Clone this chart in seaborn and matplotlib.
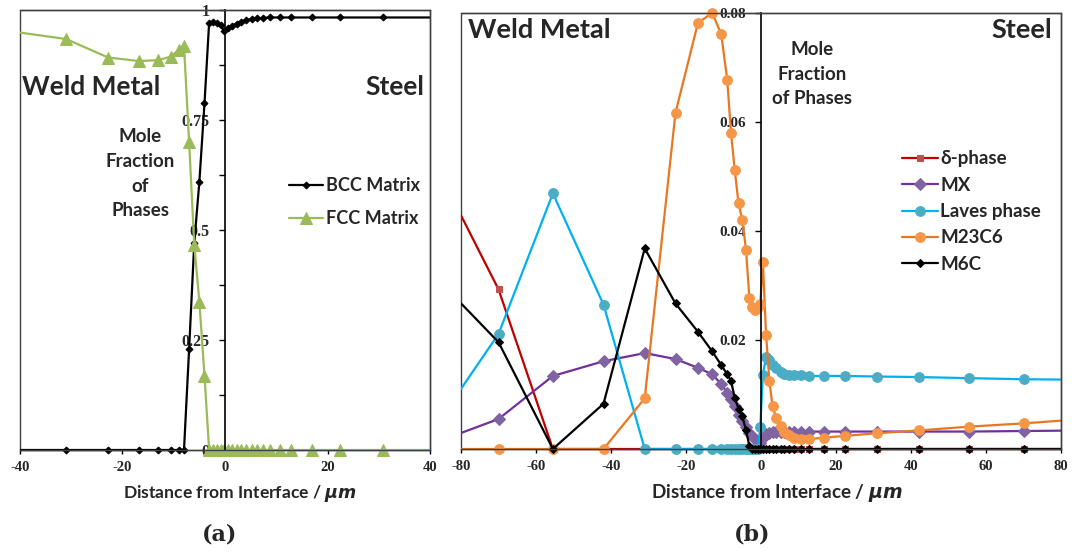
import numpy as np
import pandas as pd
import matplotlib
matplotlib.use("Agg")
import matplotlib.pyplot as plt
import seaborn as sns
from matplotlib.patches import Rectangle
from matplotlib.ticker import FixedLocator, FuncFormatter
from matplotlib.transforms import Bbox, TransformedBbox

sns.set_theme(style="white")
plt.rcParams["font.family"] = ["Lato", "DejaVu Sans"]
plt.rcParams["mathtext.fontset"] = "custom"
plt.rcParams["mathtext.it"] = "DejaVu Sans:italic:bold"
plt.rcParams["mathtext.rm"] = "Lato:bold"

# Distance from the fusion interface (um); negative values lie in the weld metal
dist = [-86, -70, -55.5, -42, -31, -22.8, -16.8, -13, -10.6, -9, -8, -7, -6, -5,
        -4, -3.1, -2.3, -1.5, -0.8, -0.2,
        0.5, 1.35, 2.25, 3.1, 4.1, 5.2, 6.2, 7.4, 8.8, 10.7, 12.9, 16.9, 22.5,
        30.9, 42, 55.4, 70, 86]

# (a) matrix phases
bcc = [0, 0, 0, 0, 0, 0, 0, 0, 0, 0, 0, 0.23, 0.47, 0.61,
       0.788, 0.971, 0.973, 0.970, 0.966, 0.953,
       0.959, 0.964, 0.969, 0.973, 0.977, 0.979, 0.981, 0.982, 0.983, 0.983,
       0.983, 0.983, 0.983, 0.983, 0.983, 0.983, 0.983, 0.983]
fcc = [0.953, 0.952, 0.952, 0.952, 0.934, 0.892, 0.884, 0.886, 0.894, 0.909,
       0.919, 0.70, 0.467, 0.337, 0.169, 0, 0, 0, 0, 0,
       0, 0, 0, 0, 0, 0, 0, 0, 0, 0, 0, 0, 0, 0, 0, 0, 0, 0]

# (b) secondary phases
delta = [0.051, 0.0293, 0, 0, 0, 0, 0, 0, 0, 0, 0, 0, 0, 0, 0, 0, 0, 0, 0, 0,
         0, 0, 0, 0, 0, 0, 0, 0, 0, 0, 0, 0, 0, 0, 0, 0, 0, 0]
mx = [0.0014, 0.0055, 0.0134, 0.0161, 0.0176, 0.0165, 0.0149, 0.0137, 0.0119,
      0.0103, 0.0091, 0.0078, 0.0063, 0.0051, 0.0040, 0.0030, 0.0024, 0.0018,
      0.0013, 0.0011,
      0.0021, 0.0028, 0.0030, 0.0031, 0.0031, 0.0032, 0.0032, 0.0032, 0.0032,
      0.0032, 0.0032, 0.0032, 0.0032, 0.0032, 0.0032, 0.0032, 0.0033, 0.0034]
laves = [0.005, 0.0211, 0.0469, 0.0265, 0, 0, 0, 0, 0, 0, 0, 0, 0, 0, 0, 0, 0,
         0, 0, 0.0041,
         0.0136, 0.0169, 0.0163, 0.0154, 0.0148, 0.0142, 0.0137, 0.0136, 0.0135,
         0.0135, 0.0134, 0.0134, 0.0134, 0.0133, 0.0132, 0.0130, 0.0128, 0.0127]
m23c6 = [0, 0, 0, 0, 0.0093, 0.0617, 0.0782, 0.0800, 0.0761, 0.0677, 0.0580,
         0.0512, 0.0451, 0.0420, 0.0366, 0.0277, 0.0260, 0.0255, 0.0260, 0.0266,
         0.0343, 0.0210, 0.0124, 0.0078, 0.0056, 0.0042, 0.0032, 0.0026, 0.0021,
         0.0018, 0.0018, 0.0021, 0.0024, 0.0029, 0.0034, 0.0041, 0.0047, 0.0055]
m6c = [0.031, 0.0196, 0, 0.0083, 0.0368, 0.0267, 0.0215, 0.0179, 0.0154, 0.0137,
       0.0125, 0.0094, 0.0074, 0.0060, 0.0035, 0.0005, 0, 0, 0, 0,
       0, 0, 0, 0, 0, 0, 0, 0, 0, 0, 0, 0, 0, 0, 0, 0, 0, 0]

label_font = dict(family=["Lato", "DejaVu Sans"], weight="bold")
tick_font = ["Liberation Serif", "DejaVu Serif"]


def draw(ax, y, label, line, mk, ms, mfc, lw=1.6):
    df = pd.DataFrame({"d": dist, "v": y})
    n = len(ax.lines)
    sns.lineplot(data=df, x="d", y="v", ax=ax, sort=False, estimator=None,
                 color=line, marker=mk, markersize=ms, markerfacecolor=mfc,
                 markeredgecolor=mfc, linewidth=lw, label=label)
    # clip only left/right so markers sitting on the zero line stay whole
    for ln in ax.lines[n:]:
        ln.set_clip_path(None)
        ln.set_clip_box(TransformedBbox(Bbox([[0, -0.04], [1, 1.04]]),
                                        ax.transAxes))


def style_axes(ax, xlim, ylim, yticks, ylabels, xticks, label_x, label_size,
               ytick_size):
    ax.set_xlim(*xlim)
    ax.set_ylim(*ylim)
    ax.set_xlabel("Distance from Interface / $\\mathit{\\mu m}$",
                  fontsize=label_size, **label_font)
    ax.xaxis.set_label_coords(label_x, -0.075)
    ax.set_ylabel("")
    for s in ("top", "right", "bottom"):
        ax.spines[s].set_visible(True)
        ax.spines[s].set_color("#404040")
        ax.spines[s].set_linewidth(1.0)
    ax.spines["left"].set_position(("data", 0))
    ax.spines["left"].set_color("black")
    ax.spines["left"].set_linewidth(1.2)
    ax.add_patch(Rectangle((0, 0), 1, 1, transform=ax.transAxes, fill=False,
                           edgecolor="#404040", linewidth=1.0, clip_on=False,
                           zorder=0.5))
    ax.yaxis.set_major_locator(FixedLocator(yticks))
    ax.yaxis.set_major_formatter(FuncFormatter(
        lambda v, p: ylabels.get(round(v, 4), "")))
    ax.xaxis.set_major_locator(FixedLocator(xticks))
    ax.xaxis.set_major_formatter(FuncFormatter(lambda v, p: f"{v:g}"))
    ax.tick_params(axis="y", direction="out", length=4, width=1, color="black",
                   pad=7, left=True)
    ax.tick_params(axis="x", direction="out", length=3, width=1, color="black",
                   pad=5, bottom=True)
    for t in ax.get_yticklabels():
        t.set_fontsize(ytick_size)
        t.set_fontfamily(tick_font)
        t.set_fontweight("bold")
    for t in ax.get_xticklabels():
        t.set_fontsize(10.5)
        t.set_fontfamily(tick_font)
        t.set_fontweight("bold")
    ax.grid(False)


fig = plt.figure(figsize=(10.74, 5.52), dpi=100)
ax1 = fig.add_axes([20 / 1074, 102 / 552, 410 / 1074, 440 / 552])
ax2 = fig.add_axes([461 / 1074, 103 / 552, 600 / 1074, 436 / 552])

# ---- (a) BCC / FCC matrix
draw(ax1, bcc, "BCC Matrix", "black", "D", 3.5, "black")
draw(ax1, fcc, "FCC Matrix", "#9BBB59", "^", 8, "#9BBB59")
style_axes(ax1, (-40, 40), (0, 1),
           [0, 0.125, 0.25, 0.375, 0.5, 0.625, 0.75, 0.875, 1.0],
           {0: "0", 0.25: "0.25", 0.5: "0.5", 0.75: "0.75", 1.0: "1"},
           [-40, -20, 0, 20, 40], (240 - 20) / 410, 12.6, 11.5)
ax1.legend(loc="upper left", bbox_to_anchor=(0.655, 0.62), frameon=False,
           prop=dict(family=["Lato"], weight="bold", size=13),
           handlelength=1.9, handletextpad=0.15, labelspacing=0.9,
           borderpad=0, borderaxespad=0)
ax1.text(0.005, 0.825, "Weld Metal", transform=ax1.transAxes, fontsize=19,
         va="center", ha="left", **label_font)
ax1.text(0.985, 0.825, "Steel", transform=ax1.transAxes, fontsize=19,
         va="center", ha="right", **label_font)
ax1.text(0.293, 0.628, "Mole\nFraction\nof\nPhases", transform=ax1.transAxes,
         fontsize=13.5, va="center", ha="center", linespacing=1.55, **label_font)

# ---- (b) secondary phases
draw(ax2, delta, "δ-phase", "#C00000", "s", 5, "#C0504D")
draw(ax2, mx, "MX", "#7030A0", "D", 6, "#8064A2")
draw(ax2, laves, "Laves phase", "#00B0F0", "o", 7, "#4BACC6")
draw(ax2, m23c6, "M23C6", "#E87722", "o", 7, "#F79646")
draw(ax2, m6c, "M6C", "black", "D", 4, "black")
style_axes(ax2, (-80, 80), (0, 0.08),
           [0, 0.02, 0.04, 0.06, 0.08],
           {0: "0", 0.02: "0.02", 0.04: "0.04", 0.06: "0.06", 0.08: "0.08"},
           [-80, -60, -40, -20, 0, 20, 40, 60, 80], (777 - 461) / 600, 13.6,
           11)
ax2.legend(loc="upper left", bbox_to_anchor=(0.735, 0.685), frameon=False,
           prop=dict(family=["Lato", "DejaVu Sans"], weight="bold", size=13.5),
           handlelength=1.9, handletextpad=0.15, labelspacing=0.5,
           borderpad=0, borderaxespad=0)
ax2.text(0.012, 0.962, "Weld Metal", transform=ax2.transAxes, fontsize=19.5,
         va="center", ha="left", **label_font)
ax2.text(0.985, 0.962, "Steel", transform=ax2.transAxes, fontsize=19.5,
         va="center", ha="right", **label_font)
ax2.text(0.585, 0.86, "Mole\nFraction\nof Phases", transform=ax2.transAxes,
         fontsize=13.5, va="center", ha="center", linespacing=1.55, **label_font)

# panel captions
cap = dict(family=["DejaVu Serif"], weight="bold", size=16)
fig.text(220 / 1074, 1 - 535 / 552, "(a)", ha="center", va="center", **cap)
fig.text(752 / 1074, 1 - 535 / 552, "(b)", ha="center", va="center", **cap)

fig.savefig("out.png", dpi=100)
